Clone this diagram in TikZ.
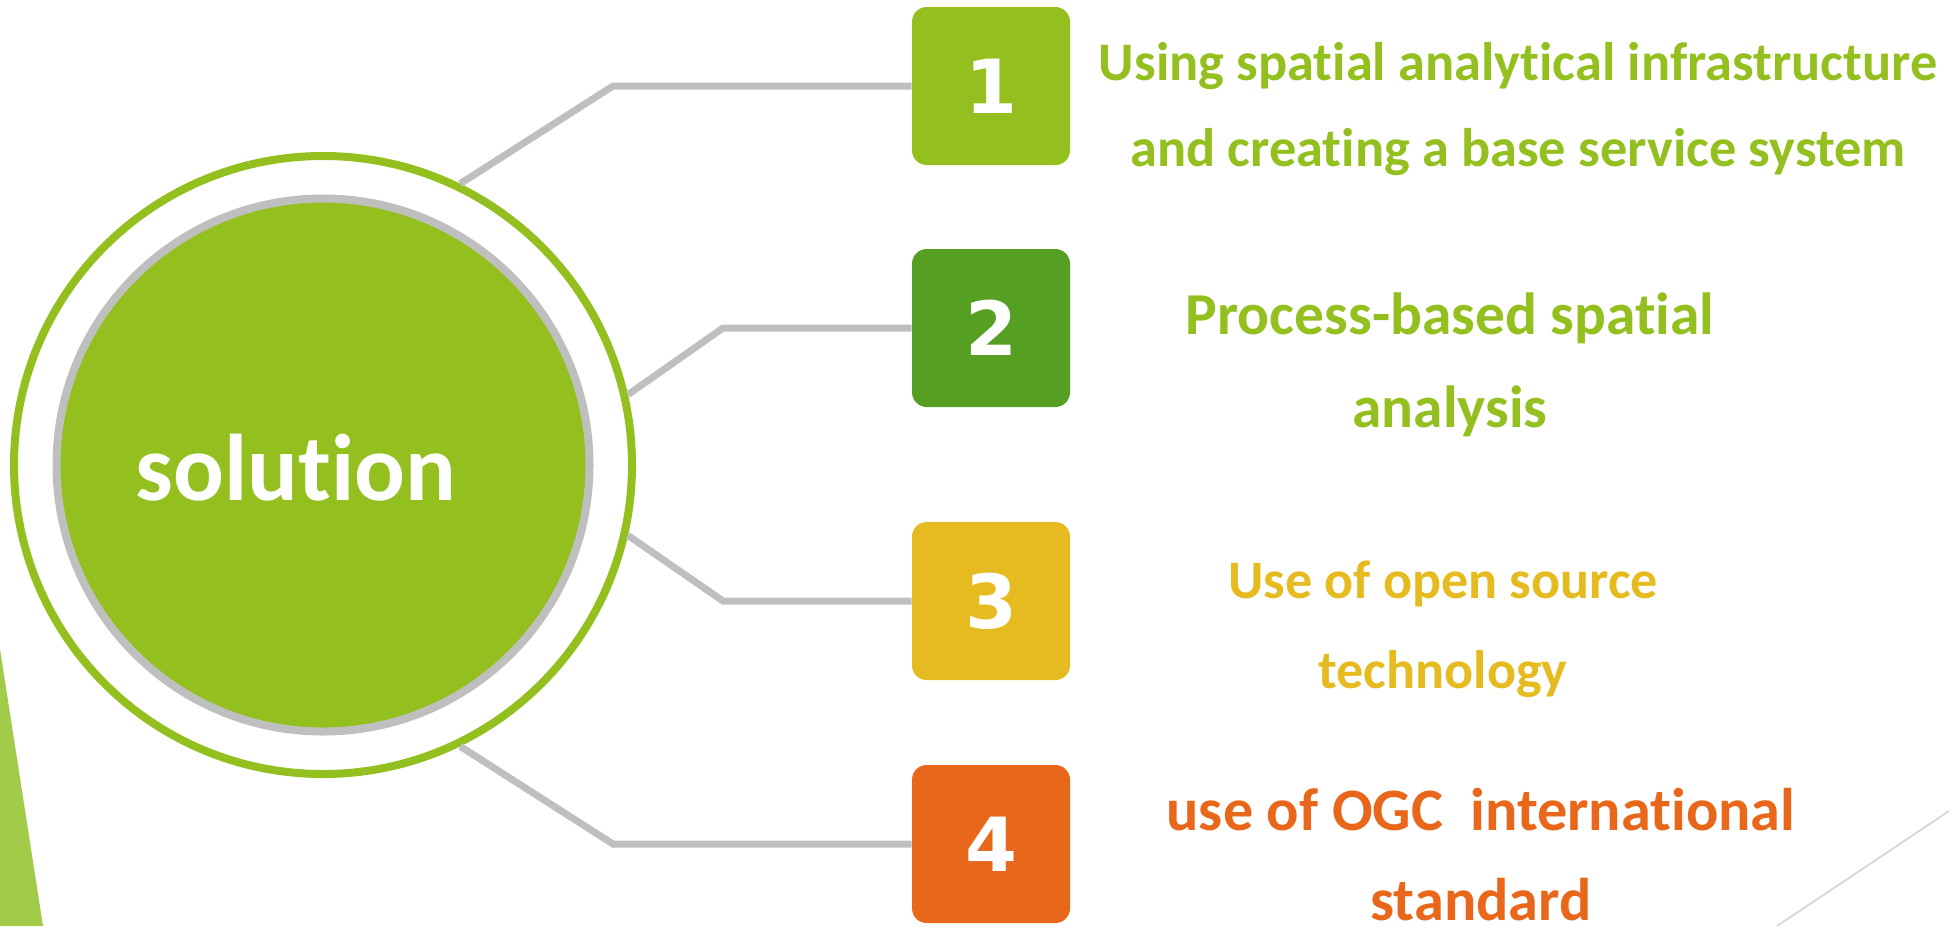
\documentclass[tikz,border=0pt]{standalone}
\usepackage{fontspec}
\setmainfont{Carlito}[Ligatures=NoCommon]
\newfontfamily\numfont{DejaVu Sans}
\usepackage{tikz}
\definecolor{solgreen}{RGB}{147,192,31}
\definecolor{deepgreen}{RGB}{85,160,35}
\definecolor{solyellow}{RGB}{230,187,31}
\definecolor{solorange}{RGB}{232,103,26}
\definecolor{ringgray}{RGB}{191,191,191}
\definecolor{wedgegreen}{RGB}{162,203,74}
\definecolor{hairgray}{RGB}{217,217,217}
\tikzset{every picture/.style={line width=0.75pt}}
\tikzset{
  numbox/.style={rectangle, rounded corners=11pt, minimum width=118.5pt, minimum height=118.5pt, inner sep=0pt, text=white, font=\numfont\bfseries\fontsize{56}{60}\selectfont},
  itemtext/.style={align=center, inner sep=0pt},
  link/.style={draw=ringgray, line width=5.25pt},
}

\begin{document}
\begin{tikzpicture}[x=0.75pt,y=0.75pt,yscale=-1,xscale=1]
\useasboundingbox (0,0) rectangle (1949,926);
\fill[wedgegreen] (0,649) -- (43,926) -- (0,926) -- cycle ;
\draw[hairgray, line width=1.5pt] (1777,926) -- (1949,811) ;
% centre circle
\node[circle, draw=solgreen, line width=6pt, minimum size=463.5pt, inner sep=0pt] (ring) at (323,465) {};
\node[circle, fill=solgreen, draw=ringgray, line width=6pt, minimum size=399.75pt, inner sep=0pt] (core) at (323,465) {};
\node[anchor=base, inner sep=0pt, text=white, font=\bfseries\fontsize{71}{74}\selectfont] (sol) at (296,500) {solution};
% number boxes
\node[numbox, fill=solgreen] (b1) at (991,86) {1};
\node[numbox, fill=deepgreen] (b2) at (991,328) {2};
\node[numbox, fill=solyellow] (b3) at (991,601) {3};
\node[numbox, fill=solorange] (b4) at (991,844) {4};
% elbows
\coordinate (e1) at (613,86);
\coordinate (e2) at (723,328);
\coordinate (e3) at (723,601);
\coordinate (e4) at (613,844);
\draw[link] (ring.64.7) -- (e1) -- (b1.west) ;
\draw[link] (ring.13.5) -- (e2) -- (b2.west) ;
\draw[link] (ring.-13.5) -- (e3) -- (b3.west) ;
\draw[link] (ring.-64.7) -- (e4) -- (b4.west) ;
% texts
\node[itemtext, text=solgreen, font=\bfseries\fontsize{40.75}{64.5}\selectfont] (t1) at (1518,109) {Using spatial analytical infrastructure\\and creating a base service system};
\node[itemtext, text=solgreen, font=\bfseries\fontsize{44.6}{69.75}\selectfont] (t2) at (1450,365) {Process-based spatial\\analysis};
\node[itemtext, text=solyellow, font=\bfseries\fontsize{40.6}{67.5}\selectfont] (t3) at (1443,629) {Use of open source\\technology};
\node[itemtext, text=solorange, font=\bfseries\fontsize{45.2}{67.5}\selectfont] (t4) at (1481,855) {use of OGC\ \ international\\standard};
\end{tikzpicture}
\end{document}
